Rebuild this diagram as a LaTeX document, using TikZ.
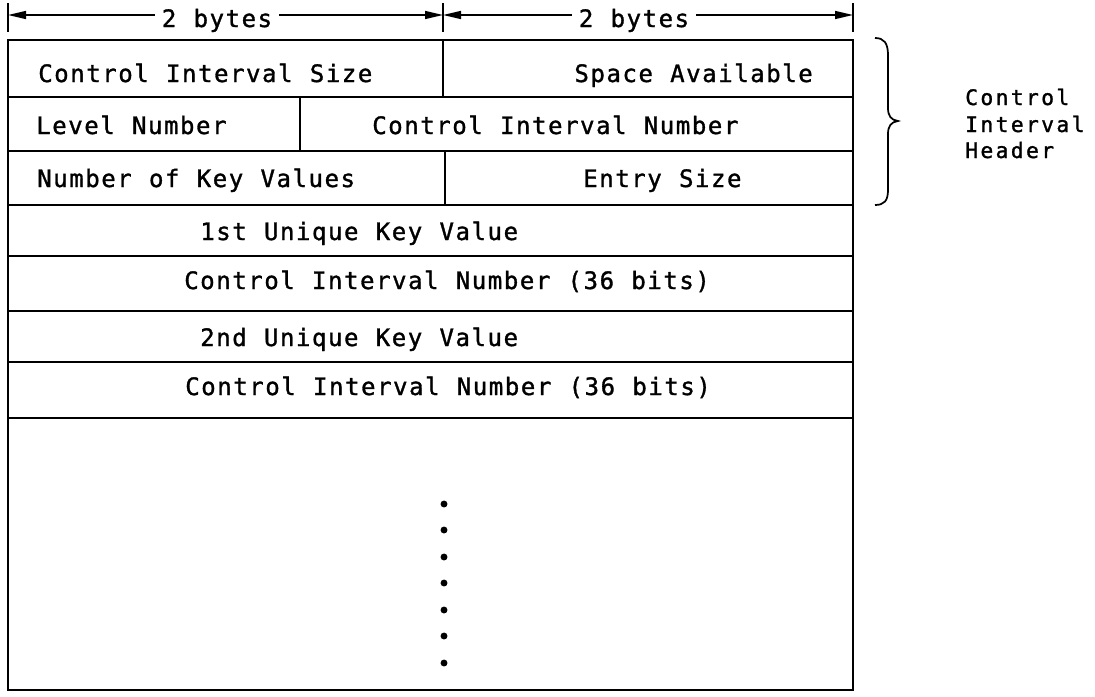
\documentclass[tikz,border=0pt]{standalone}
\usepackage{fontspec}
\usetikzlibrary{arrows.meta}
% spaced-out monospaced lettering, slightly heavier strokes
\newfontfamily\fieldfont[LetterSpace=6.5,WordSpace=1.08,FakeBold=1.3]{DejaVu Sans Mono}
\newfontfamily\notefont[LetterSpace=11.0,WordSpace=1.1,FakeBold=1.3]{DejaVu Sans Mono}

\begin{document}
\begin{tikzpicture}[x=0.75pt,y=-0.75pt,
  field/.style={inner sep=0pt, font={\fieldfont\fontsize{18pt}{21pt}\selectfont}},
  note/.style={inner sep=0pt, anchor=base west, font={\notefont\fontsize{16pt}{19pt}\selectfont}},
  frame/.style={line width=1.5pt},
  dim/.style={line width=1.1pt},
  tip/.style={-{Triangle[length=13.5pt,width=6pt]}},
  bytes/.style={field, anchor=base, inner xsep=5pt}
]
\useasboundingbox (0,0) rectangle (1095,696);

% ---- width markers above the record ----
\coordinate (tL) at (8,15);
\coordinate (tM) at (443,15);
\coordinate (tR) at (853,15);
\foreach \x in {8,443,853} \draw[dim] (\x,3) -- (\x,32);
\node[bytes] (b1) at (217,27) {2 bytes};
\node[bytes] (b2) at (634,27) {2 bytes};
\draw[dim,tip] (b1.west |- tL) -- (tL);
\draw[dim,tip] (b1.east |- tL) -- (tM);
\draw[dim,tip] (b2.west |- tM) -- (tM);
\draw[dim,tip] (b2.east |- tR) -- (tR);

% ---- record frame ----
\draw[frame] (8,40) rectangle (853,690);
\foreach \y in {97,151,205,256,311,362,418} \draw[frame] (8,\y) -- (853,\y);
\draw[frame] (443,40) -- (443,97);
\draw[frame] (300,97) -- (300,151);
\draw[frame] (445,151) -- (445,205);

% ---- field names ----
\node[field, anchor=base west] (cis) at (38,82) {Control Interval Size};
\node[field, anchor=base east] (sa)  at (813,82) {Space Available};
\node[field, anchor=base west] (ln)  at (36,134) {Level Number};
\node[field, anchor=base west] (cin) at (372,134) {Control Interval Number};
\node[field, anchor=base west] (nkv) at (37,187) {Number of Key Values};
\node[field, anchor=base west] (es)  at (583,187) {Entry Size};
\node[field, anchor=base west] (k1)  at (200,240) {1st Unique Key Value};
\node[field, anchor=base west] (c1)  at (184,289) {Control Interval Number (36 bits)};
\node[field, anchor=base west] (k2)  at (200,346) {2nd Unique Key Value};
\node[field, anchor=base west] (c2)  at (185,395) {Control Interval Number (36 bits)};

% ---- continuation dots ----
\foreach \y in {504,530,557,583,610,636,663} \fill (444,\y) circle[radius=2.6pt];

% ---- header brace and its label ----
\coordinate (brTop) at (875,38);
\coordinate (brBot) at (875,205);
\draw[line width=1.3pt] (brTop) .. controls (884,38) and (888,43) .. (888,55)
  -- (888,108) .. controls (888,116) and (891,120) .. (898,121)
  .. controls (891,122) and (888,126) .. (888,134)
  -- (888,190) .. controls (888,201) and (884,205) .. (brBot);
\node[note] (h1) at (965,105) {Control};
\node[note] (h2) at (965,132) {Interval};
\node[note] (h3) at (965,158) {Header};
\end{tikzpicture}
\end{document}
